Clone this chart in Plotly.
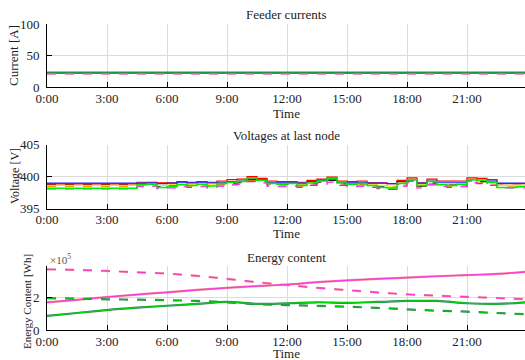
import plotly.graph_objects as go

# ---------------- data ----------------
tick_hours = [0, 3, 6, 9, 12, 15, 18, 21]
tick_labels = ["0:00", "3:00", "6:00", "9:00", "12:00", "15:00", "18:00", "21:00"]

# Feeder currents [A] (flat)
cur_hours = [0, 6, 12, 18, 24]
cur_green = [23.6, 23.6, 23.6, 23.6, 23.6]
cur_olive = [22.8, 22.8, 22.8, 22.8, 22.8]
cur_blue = [22.0, 22.0, 22.0, 22.0, 22.0]
cur_pink = [21.2, 21.2, 21.2, 21.2, 21.2]

# Voltages at last node [V] (half-hourly steps)
v_hours = [i * 0.5 for i in range(49)]
v_red = [398.85]*9 + [399.1, 399.1, 399.0, 399.0, 399.2, 399.1, 399.2, 399.1, 399.3, 399.5,
         399.6, 400.0, 399.7, 399.3, 399.2, 399.2, 399.1, 399.4, 399.6, 399.9, 399.3,
         399.2, 399.3, 399.0, 399.0, 398.9, 399.4, 399.8, 399.0, 399.6, 399.3, 399.3,
         399.3, 399.8, 399.7, 399.5, 398.9, 398.9, 398.9, 398.9]
v_green = [398.15]*9 + [398.7, 398.8, 398.3, 398.4, 398.7, 398.6, 398.8, 398.5, 398.9, 399.1,
           399.2, 399.8, 399.4, 398.9, 398.8, 398.9, 398.6, 399.0, 399.3, 399.7, 399.0,
           398.8, 398.9, 398.6, 398.3, 398.2, 398.9, 399.5, 398.6, 399.2, 398.7, 398.6,
           398.8, 399.5, 399.4, 399.1, 398.3, 398.3, 398.4, 398.4]
v_blue = [398.95]*9 + [398.95, 399.0, 398.9, 398.95, 399.1, 399.0, 399.1, 399.0, 399.1, 399.2,
          399.3, 399.6, 399.5, 399.1, 399.0, 399.0, 398.95, 399.2, 399.4, 399.6, 399.1,
          399.0, 399.1, 398.95, 398.95, 398.9, 399.2, 399.5, 398.95, 399.3, 399.1, 399.1,
          399.1, 399.5, 399.4, 399.3, 398.95, 398.95, 398.95, 398.95]
v_yellow = [398.6]*9 + [398.8, 398.9, 398.6, 398.7, 398.9, 398.8, 398.9, 398.7, 399.0, 399.2,
            399.3, 399.7, 399.5, 399.0, 398.9, 399.0, 398.8, 399.1, 399.4, 399.7, 399.1,
            398.9, 399.0, 398.8, 398.6, 398.5, 399.0, 399.6, 398.7, 399.3, 398.9, 398.9,
            398.9, 399.6, 399.5, 399.2, 398.6, 398.6, 398.6, 398.6]
v_black = [398.75]*9 + [398.8, 398.9, 398.5, 398.6, 398.8, 398.6, 398.8, 398.6, 398.9, 399.0,
           399.1, 399.5, 399.3, 398.9, 398.8, 398.8, 398.7, 398.9, 399.1, 399.4, 398.9,
           398.8, 398.9, 398.7, 398.5, 398.4, 398.8, 399.3, 398.5, 399.0, 398.8, 398.7,
           398.7, 399.3, 399.2, 399.0, 398.6, 398.6, 398.6, 398.6]
v_orange = [398.45]*9 + [398.6, 398.7, 398.3, 398.4, 398.6, 398.5, 398.6, 398.4, 398.7, 398.9,
            399.0, 399.4, 399.2, 398.7, 398.6, 398.7, 398.5, 398.8, 399.0, 399.3, 398.8,
            398.6, 398.7, 398.5, 398.3, 398.2, 398.7, 399.2, 398.4, 398.9, 398.6, 398.5,
            398.6, 399.2, 399.1, 398.8, 398.5, 398.5, 398.5, 398.5]
v_magenta = [398.05]*9 + [398.4, 398.5, 398.1, 398.2, 398.4, 398.3, 398.4, 398.2, 398.5, 398.7,
             398.8, 399.2, 399.0, 398.5, 398.4, 398.5, 398.3, 398.6, 398.8, 399.1, 398.6,
             398.4, 398.5, 398.3, 398.1, 398.0, 398.5, 399.0, 398.2, 398.7, 398.4, 398.3,
             398.4, 399.0, 398.9, 398.6, 398.2, 398.2, 398.2, 398.2]

# Energy content [x1e5 Wh] (every 1.5 h)
e_hours = [0, 1.5, 3, 4.5, 6, 7.5, 9, 10.5, 12, 13.5, 15, 16.5, 18, 19.5, 21, 22.5, 24]
e_pink_dash = [3.70, 3.66, 3.60, 3.52, 3.44, 3.30, 3.12, 2.92, 2.74, 2.58, 2.44, 2.30, 2.18, 2.10, 2.03, 1.96, 1.88]
e_pink_solid = [1.70, 1.85, 2.02, 2.17, 2.30, 2.45, 2.58, 2.68, 2.78, 2.92, 3.03, 3.12, 3.20, 3.28, 3.35, 3.42, 3.55]
e_green_solid = [0.87, 1.05, 1.23, 1.37, 1.49, 1.60, 1.72, 1.60, 1.64, 1.70, 1.67, 1.72, 1.78, 1.78, 1.64, 1.60, 1.70]
e_green_dash = [1.95, 1.92, 1.88, 1.86, 1.83, 1.78, 1.70, 1.58, 1.53, 1.48, 1.43, 1.36, 1.27, 1.19, 1.13, 1.05, 0.97]

# ---------------- figure ----------------
FONT = "Liberation Serif, Times New Roman, serif"
W, H = 525, 360
L = 47
fig = go.Figure()

def add(x, y, color, width, dash, ax, shape="linear"):
    fig.add_trace(go.Scatter(x=x, y=y, mode="lines", xaxis="x" + ax, yaxis="y" + ax,
                             line=dict(color=color, width=width, dash=dash, shape=shape),
                             showlegend=False, hoverinfo="skip"))

# currents
add(cur_hours, cur_olive, "#b0b000", 1, "solid", "")
add(cur_hours, cur_green, "#22a022", 1.5, "solid", "")
add(cur_hours, cur_blue, "#3355ff", 1, "solid", "")
add(cur_hours, cur_pink, "#ee66bb", 1.5, "dash", "")

# voltages
add(v_hours, v_orange, "#ff9900", 1.2, "dash", "2", "hv")
add(v_hours, v_black, "#222222", 1.2, "dash", "2", "hv")
add(v_hours, v_yellow, "#eeee00", 1.2, "solid", "2", "hv")
add(v_hours, v_magenta, "#ff00ff", 1.2, "dash", "2", "hv")
add(v_hours, v_red, "#ff0000", 1.2, "solid", "2", "hv")
add(v_hours, v_blue, "#2222ff", 1.2, "solid", "2", "hv")
add(v_hours, v_green, "#00ee00", 1.5, "solid", "2", "hv")

# energy
add(e_hours, e_pink_dash, "#f07aa0", 2.2, "dash", "3", "spline")
add(e_hours, e_pink_dash, "#ff33cc", 1, "dash", "3", "spline")
add(e_hours, e_pink_solid, "#f07aa0", 2.2, "solid", "3", "spline")
add(e_hours, e_pink_solid, "#ff33dd", 1, "solid", "3", "spline")
add(e_hours, e_green_dash, "#2e8b57", 2.2, "dash", "3", "spline")
add(e_hours, e_green_dash, "#00cc00", 1, "dash", "3", "spline")
add(e_hours, e_green_solid, "#2e8b57", 2.2, "solid", "3", "spline")
add(e_hours, e_green_solid, "#00dd00", 1, "solid", "3", "spline")

def dom(top_px, bot_px):
    return [1 - bot_px / H, 1 - top_px / H]

xcommon = dict(range=[0, 23.9], tickvals=tick_hours, ticktext=tick_labels,
               showline=True, linecolor="black", linewidth=1, mirror=False,
               ticks="inside", ticklen=5, tickcolor="black", automargin=False,
               showgrid=True, gridcolor="#dcdcdc", gridwidth=1, zeroline=False,
               tickfont=dict(family=FONT, size=13, color="#222222"), fixedrange=True,
               ticklabelstandoff=-1)
ycommon = dict(showline=True, linecolor="black", linewidth=1, mirror=False,
               ticks="inside", ticklen=5, tickcolor="black", automargin=False,
               showgrid=True, gridcolor="#dcdcdc", gridwidth=1, zeroline=False,
               tickfont=dict(family=FONT, size=13, color="#222222"), fixedrange=True,
               ticklabelstandoff=4)

panels = [("", 24, 87.3, [0, 100], [0, 50, 100], ["0", "50", "100"]),
          ("2", 144.5, 208.5, [395, 405], [395, 400, 405], ["395", "400", "405"]),
          ("3", 265.7, 330.3, [0, 3.92], [0, 2], ["0", "2"])]
lay = {}
for ax, t, b, yr, tv, tt in panels:
    lay["xaxis" + ax] = dict(xcommon, domain=[0, 1], anchor="y" + ax)
    lay["yaxis" + ax] = dict(ycommon, domain=dom(t, b), range=yr, tickvals=tv, ticktext=tt,
                             anchor="x" + ax)

def px_x(p):
    return (p - L) / (W - L)

def px_y(p):
    return 1 - p / H

ann = []
def text(s, xp, yp, size=13, angle=0, xanchor="center", color="#222222"):
    ann.append(dict(text=s, x=px_x(xp), y=px_y(yp), xref="paper", yref="paper",
                    showarrow=False, textangle=angle, xanchor=xanchor, yanchor="middle",
                    font=dict(family=FONT, size=size, color=color)))

cx = (L + W) / 2
text("Feeder currents", cx, 15)
text("Voltages at last node", cx, 135)
text("Energy content", cx, 257)
for yy in (113, 233, 353):
    text("Time", cx, yy)
text("Current [A]", 13, 56, size=13, angle=-90)
text("Voltage [V]", 15, 176, size=12, angle=-90)
text("Energy Content [Wh]", 27, 302, size=11, angle=-90)
text("×10<sup>5</sup>", 48, 259, size=11, xanchor="left", color="#555555")

fig.update_layout(template="none", width=W, height=H, margin=dict(l=L, r=0, t=0, b=0, pad=0),
                  paper_bgcolor="white", plot_bgcolor="white",
                  annotations=ann, showlegend=False, **lay)

fig.write_html("out.html", config={"displayModeBar": False},
               post_script="document.body.style.margin='0px';document.body.style.overflow='hidden';")
